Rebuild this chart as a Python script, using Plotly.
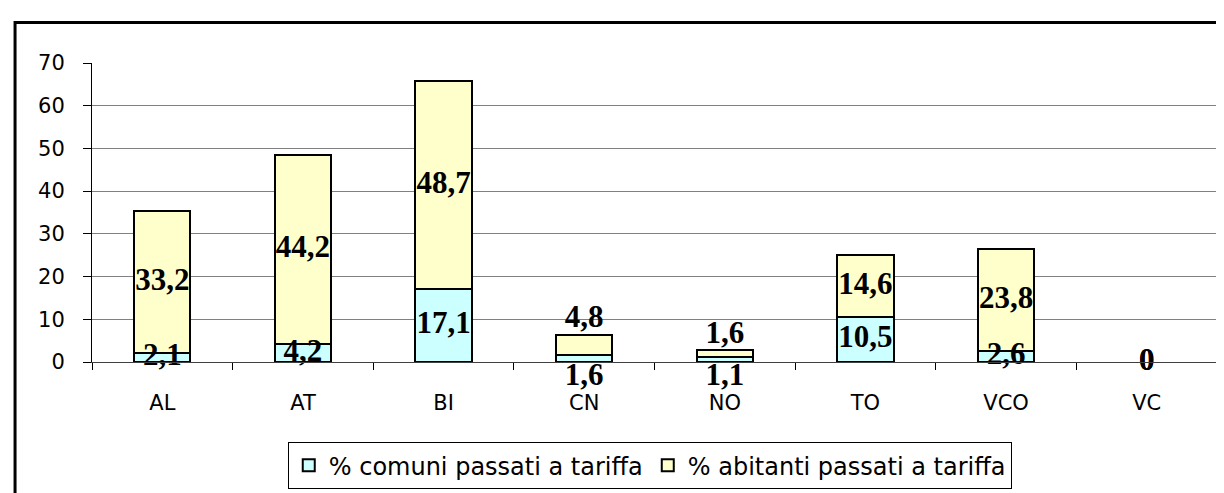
import plotly.graph_objects as go

# data
province = ["AL", "AT", "BI", "CN", "NO", "TO", "VCO", "VC"]
comuni = [2.1, 4.2, 17.1, 1.6, 1.1, 10.5, 2.6, 0]
abitanti = [33.2, 44.2, 48.7, 4.8, 1.6, 14.6, 23.8, 0]
y_ticks = [0, 10, 20, 30, 40, 50, 60, 70]

def fmt(v):
    # italian decimal comma, bare 0 for empty values
    return "0" if v == 0 else f"{v:.1f}".replace(".", ",")

totals = [c + a for c, a in zip(comuni, abitanti)]

# label placement like excel: small segments pushed out of the bar
small = [t < 10 and t > 0 for t in totals]
lab_c_y = [0 if s else c / 2 for c, s in zip(comuni, small)]
lab_c_pos = ["bottom center" if s else "middle center" for s in small]
lab_a_y = [t if s else c + a / 2 for c, a, t, s in zip(comuni, abitanti, totals, small)]
lab_a_pos = ["top center" if s else "middle center" for s in small]

fig = go.Figure()

fig.add_trace(go.Bar(
    x=province, y=comuni, name="% comuni passati a tariffa",
    marker=dict(color="#CCFFFF",
                line=dict(color="black", width=[2 if v else 0 for v in comuni])),
    hoverinfo="skip"
))
fig.add_trace(go.Bar(
    x=province, y=abitanti, name="% abitanti passati a tariffa",
    marker=dict(color="#FFFFCC",
                line=dict(color="black", width=[2 if v else 0 for v in abitanti])),
    hoverinfo="skip"
))

label_font = dict(family="Liberation Serif", size=31, color="black", weight="bold")
fig.add_trace(go.Scatter(
    x=province, y=lab_a_y, mode="text", text=[fmt(v) for v in abitanti],
    textposition=lab_a_pos, textfont=label_font, showlegend=False,
    cliponaxis=False, hoverinfo="skip"
))
fig.add_trace(go.Scatter(
    x=province, y=lab_c_y, mode="text", text=[fmt(v) for v in comuni],
    textposition=lab_c_pos, textfont=label_font, showlegend=False,
    cliponaxis=False, hoverinfo="skip"
))

fig.update_layout(
    width=1224, height=493,
    barmode="stack", bargap=0.6,
    margin=dict(l=84, r=15, t=55, b=128),
    paper_bgcolor="white", plot_bgcolor="white",
    font=dict(family="DejaVu Sans", size=21, color="black"),
    legend=dict(
        orientation="h", x=0.174, xanchor="left", y=-0.268, yanchor="top",
        bordercolor="black", borderwidth=1, font=dict(size=24),
        traceorder="normal", itemwidth=30
    ),
    xaxis=dict(
        showline=True, linecolor="#404040", linewidth=1,
        ticks="outside", tickson="boundaries", ticklen=7, tickcolor="black",
        ticklabelstandoff=22, showgrid=False
    ),
    yaxis=dict(
        range=[0, 70], tickvals=y_ticks, showline=True, linecolor="black", linewidth=1,
        ticks="outside", ticklen=8, tickcolor="black", ticklabelstandoff=14,
        showgrid=True, gridcolor="#808080", gridwidth=1, zeroline=False
    ),
    shapes=[dict(
        type="rect", xref="paper", yref="paper",
        x0=-0.0684, x1=1.2, y0=-1, y1=1.1355,
        line=dict(color="black", width=3), layer="below"
    )]
)

fig.write_html("out.html")
